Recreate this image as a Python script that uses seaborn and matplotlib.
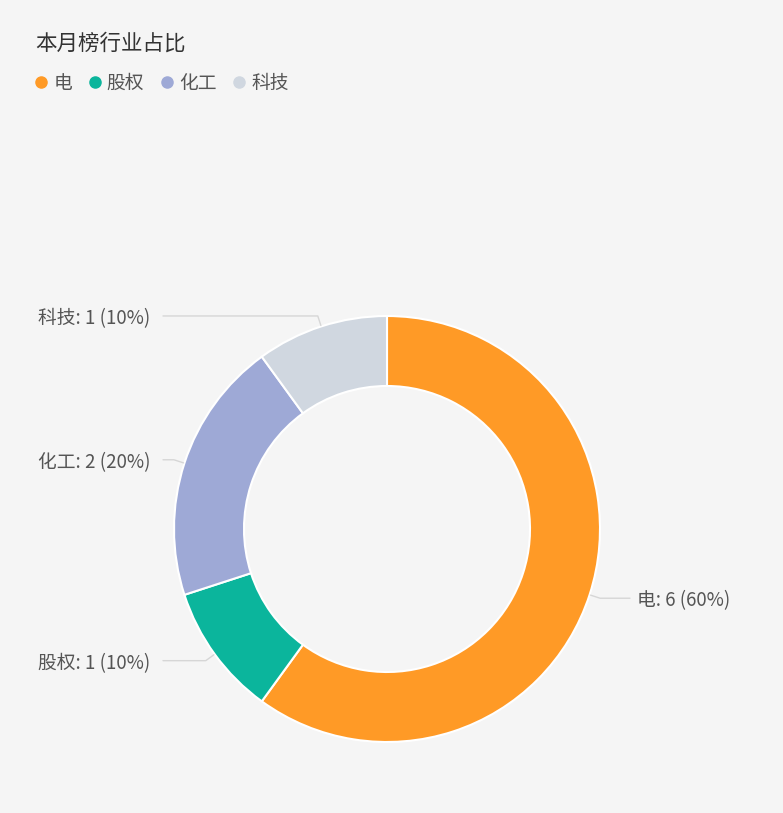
import numpy as np
import seaborn as sns
import matplotlib.pyplot as plt
from matplotlib.lines import Line2D

# 数据
industries = ["电", "股权", "化工", "科技"]
counts = [6, 1, 2, 1]
colors = ["#FF9A26", "#0BB59C", "#9EA9D6", "#D0D7E0"]
title = "本月榜行业占比"

sns.set_theme(style="white")
plt.rcParams['font.family'] = ['Noto Sans CJK SC', 'DejaVu Sans']

W, H = 783, 813
fig = plt.figure(figsize=(W / 100, H / 100), dpi=100, facecolor="#F5F5F5")
ax = fig.add_axes([0, 0, 1, 1])
ax.set_facecolor("#F5F5F5")

cx, cy, R = 387, H - 529, 213
wedges, _ = ax.pie(counts, colors=colors, startangle=90, counterclock=False,
                   center=(cx, cy), radius=R, frame=True,
                   wedgeprops=dict(width=70, edgecolor="white", linewidth=1.5))
ax.set_xlim(0, W)
ax.set_ylim(0, H)
ax.set_aspect("equal")
ax.axis("off")

total = sum(counts)
for w, name, c in zip(wedges, industries, counts):
    mid = np.deg2rad((w.theta1 + w.theta2) / 2)
    ax_pt = (cx + (R + 1) * np.cos(mid), cy + (R + 1) * np.sin(mid))
    el = (cx + (R + 11) * np.cos(mid), cy + (R + 11) * np.sin(mid))
    label = f"{name}: {c} ({c / total * 100:.0f}%)"
    if np.cos(mid) >= 0:
        end_x, tx, ha = 630, 637, "left"
    else:
        end_x, tx, ha = 163, 150, "right"
    ax.plot([ax_pt[0], el[0], end_x], [ax_pt[1], el[1], el[1]],
            color="#D6D6D6", lw=1)
    ax.text(tx, el[1] - 2.5, label, ha=ha, va="center", fontsize=13.5, color="#555555")

fig.text(35 / W, 1 - 44 / H, title, ha="left", va="center", fontsize=15.5, color="#333333")

handles = [Line2D([], [], marker="o", ls="", markersize=8, color=col) for col in colors]
leg = fig.legend(handles, industries, loc="center left", bbox_to_anchor=(12 / W, 1 - 83 / H),
                 ncol=4, frameon=False, handletextpad=0.0, columnspacing=0.55,
                 handlelength=1.3, fontsize=13.5)
for t in leg.get_texts():
    t.set_color("#555555")

fig.savefig("out.png", dpi=100, facecolor="#F5F5F5")
